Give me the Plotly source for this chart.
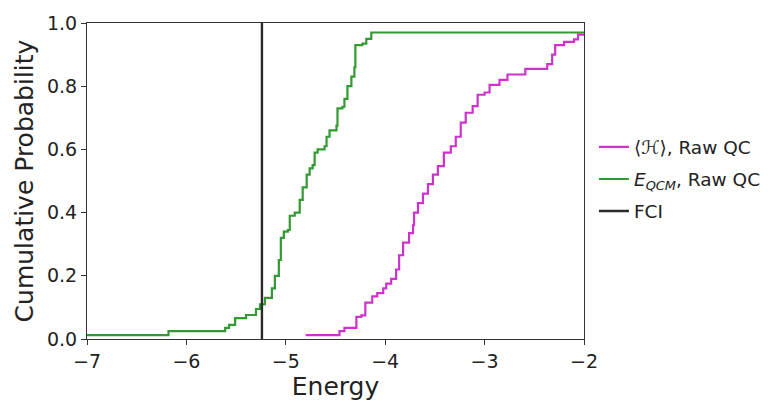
import plotly.graph_objects as go

# Step data (x where a new level begins, level from there on)
qcm_x = [-7.5, -6.18, -5.61, -5.57, -5.51, -5.40, -5.30, -5.26, -5.21, -5.14, -5.11, -5.07,
         -5.05, -5.02, -4.98, -4.96, -4.91, -4.86, -4.83, -4.79, -4.76, -4.73, -4.71, -4.68,
         -4.61, -4.59, -4.56, -4.49, -4.48, -4.43, -4.41, -4.38, -4.34, -4.31, -4.30, -4.23,
         -4.19, -4.14, -1.9]
qcm_y = [0.012, 0.025, 0.035, 0.045, 0.066, 0.076, 0.095, 0.11, 0.13, 0.16, 0.20, 0.25,
         0.32, 0.34, 0.345, 0.39, 0.40, 0.44, 0.48, 0.52, 0.54, 0.55, 0.59, 0.60,
         0.61, 0.64, 0.66, 0.675, 0.73, 0.735, 0.76, 0.80, 0.83, 0.86, 0.93, 0.935,
         0.95, 0.97, 0.97]

h_x = [-4.80, -4.46, -4.41, -4.29, -4.24, -4.20, -4.13, -4.08, -4.02, -3.99, -3.94, -3.89,
       -3.86, -3.82, -3.76, -3.72, -3.71, -3.67, -3.62, -3.57, -3.52, -3.47, -3.41, -3.34,
       -3.29, -3.24, -3.19, -3.12, -3.07, -3.00, -2.95, -2.85, -2.77, -2.59, -2.37, -2.32,
       -2.29, -2.20, -2.10, -2.06, -1.9]
h_y = [0.012, 0.025, 0.035, 0.07, 0.075, 0.115, 0.135, 0.145, 0.16, 0.175, 0.19, 0.22,
       0.265, 0.305, 0.335, 0.36, 0.40, 0.43, 0.46, 0.49, 0.52, 0.547, 0.59, 0.61,
       0.64, 0.685, 0.716, 0.737, 0.773, 0.78, 0.804, 0.82, 0.837, 0.855, 0.87, 0.90,
       0.93, 0.94, 0.948, 0.963, 0.963]

fci_energy = -5.24
x_ticks = [-7, -6, -5, -4, -3, -2]
y_ticks = [0.0, 0.2, 0.4, 0.6, 0.8, 1.0]

MAG = "#CC33CC"
GRN = "#339933"
BLK = "#2a2a2a"

fig = go.Figure()
fig.add_trace(go.Scatter(x=h_x, y=h_y, mode="lines", line=dict(color=MAG, width=2.2, shape="hv"),
                         name="⟨ℋ⟩, Raw QC", legendgroup="a"))
fig.add_trace(go.Scatter(x=qcm_x, y=qcm_y, mode="lines", line=dict(color=GRN, width=2.2, shape="hv"),
                         name="<i>E</i><sub><i>QCM</i></sub>, Raw QC", legendgroup="b"))
fig.add_trace(go.Scatter(x=[fci_energy, fci_energy], y=[-0.1, 1.1], mode="lines",
                         line=dict(color=BLK, width=2.4), name="FCI", legendgroup="c"))

axis_common = dict(showline=True, linecolor="#333333", linewidth=1, mirror=True,
                   ticks="outside", ticklen=5, tickcolor="#333333", showgrid=False,
                   zeroline=False, tickfont=dict(size=19, color="#222222"))

fig.update_layout(
    width=783, height=405,
    margin=dict(l=87, r=199, t=15, b=66),
    paper_bgcolor="white", plot_bgcolor="white",
    font=dict(family="DejaVu Sans", color="#222222"),
    xaxis=dict(range=[-7, -2], tickvals=x_ticks, **axis_common,
               title=dict(text="Energy", font=dict(size=25), standoff=4)),
    yaxis=dict(range=[0, 1], tickvals=y_ticks, tickformat=".1f", **axis_common,
               title=dict(text="Cumulative Probability", font=dict(size=25), standoff=6)),
    legend=dict(x=1.02, xanchor="left", y=0.505, yanchor="middle", font=dict(size=18.5),
                traceorder="grouped", tracegroupgap=5, bgcolor="rgba(0,0,0,0)"),
)

fig.write_html("out.html")
